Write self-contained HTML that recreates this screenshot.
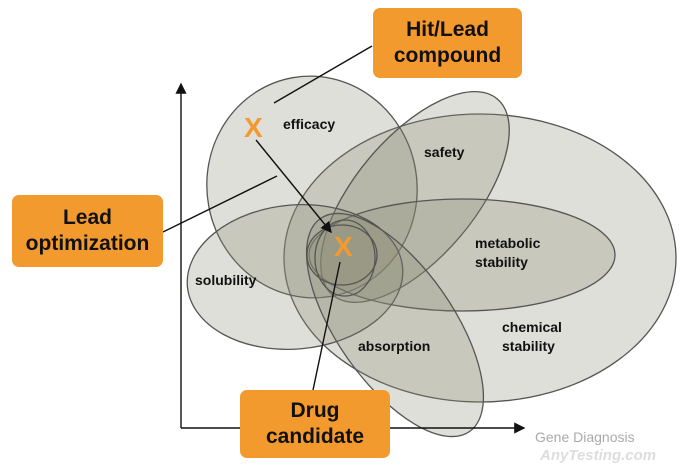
<!DOCTYPE html>
<html><head><style>
body{margin:0;width:680px;height:470px;background:#fff;overflow:hidden;font-family:"Liberation Sans",sans-serif}
.box{position:absolute;background:#f39a2f;border-radius:7px;text-align:center;font-weight:bold;font-size:21px;line-height:26px;color:#111;display:flex;align-items:center;justify-content:center}
</style></head><body>
<svg width="680" height="470" style="position:absolute;left:0;top:0">
<defs><marker id="a" markerWidth="8" markerHeight="8" refX="7" refY="4" orient="auto"><path d="M0,0L8,4L0,8z" fill="#111"/></marker></defs>
<g fill="rgba(140,140,120,0.28)" stroke="#555" stroke-width="1.3">
<ellipse cx="480" cy="258" rx="196" ry="144"/>
<ellipse cx="312" cy="187" rx="105" ry="111" transform="rotate(-10 312 187)"/>
<ellipse cx="415" cy="197" rx="128" ry="60" transform="rotate(-50 415 197)"/>
<ellipse cx="462" cy="255" rx="153" ry="56"/>
<ellipse cx="295" cy="277" rx="108" ry="72" transform="rotate(-5 295 277)"/>
<ellipse cx="395" cy="325" rx="130" ry="58" transform="rotate(55 395 325)"/>
<ellipse cx="342" cy="255" rx="35" ry="30" fill="rgba(140,140,120,0.15)"/>
<ellipse cx="345" cy="258" rx="30" ry="38" fill="none"/>
</g>
<g stroke="#111" stroke-width="1.4" fill="none">
<line x1="181" y1="428" x2="181" y2="84" marker-end="url(#a)"/>
<line x1="181" y1="428" x2="524" y2="428" marker-end="url(#a)"/>
<line x1="372" y1="46" x2="274" y2="103"/>
<line x1="256" y1="140" x2="331" y2="232" marker-end="url(#a)"/>
<line x1="163" y1="232" x2="277" y2="176"/>
<line x1="313" y1="390" x2="340" y2="262"/>
</g>
<g font-family="Liberation Sans" font-weight="bold" font-size="14" fill="#111">
<text x="283" y="129">efficacy</text>
<text x="424" y="157">safety</text>
<text x="475" y="248">metabolic</text>
<text x="475" y="267">stability</text>
<text x="195" y="285">solubility</text>
<text x="502" y="332">chemical</text>
<text x="502" y="351">stability</text>
<text x="358" y="351">absorption</text>
</g>
<g font-family="Liberation Sans" font-weight="bold" font-size="28" fill="#f39a2f">
<text x="244" y="137">X</text>
<text x="334" y="256">X</text>
</g>
<text x="535" y="442" font-family="Liberation Sans" font-size="14" fill="#aaa">Gene Diagnosis</text>
<text x="540" y="460" font-family="Liberation Sans" font-style="italic" font-weight="bold" font-size="15" fill="#ddd">AnyTesting.com</text>
</svg>
<div class="box" style="left:373px;top:8px;width:149px;height:70px">Hit/Lead<br>compound</div>
<div class="box" style="left:12px;top:195px;width:151px;height:72px">Lead<br>optimization</div>
<div class="box" style="left:240px;top:390px;width:150px;height:68px">Drug<br>candidate</div>
</body></html>
